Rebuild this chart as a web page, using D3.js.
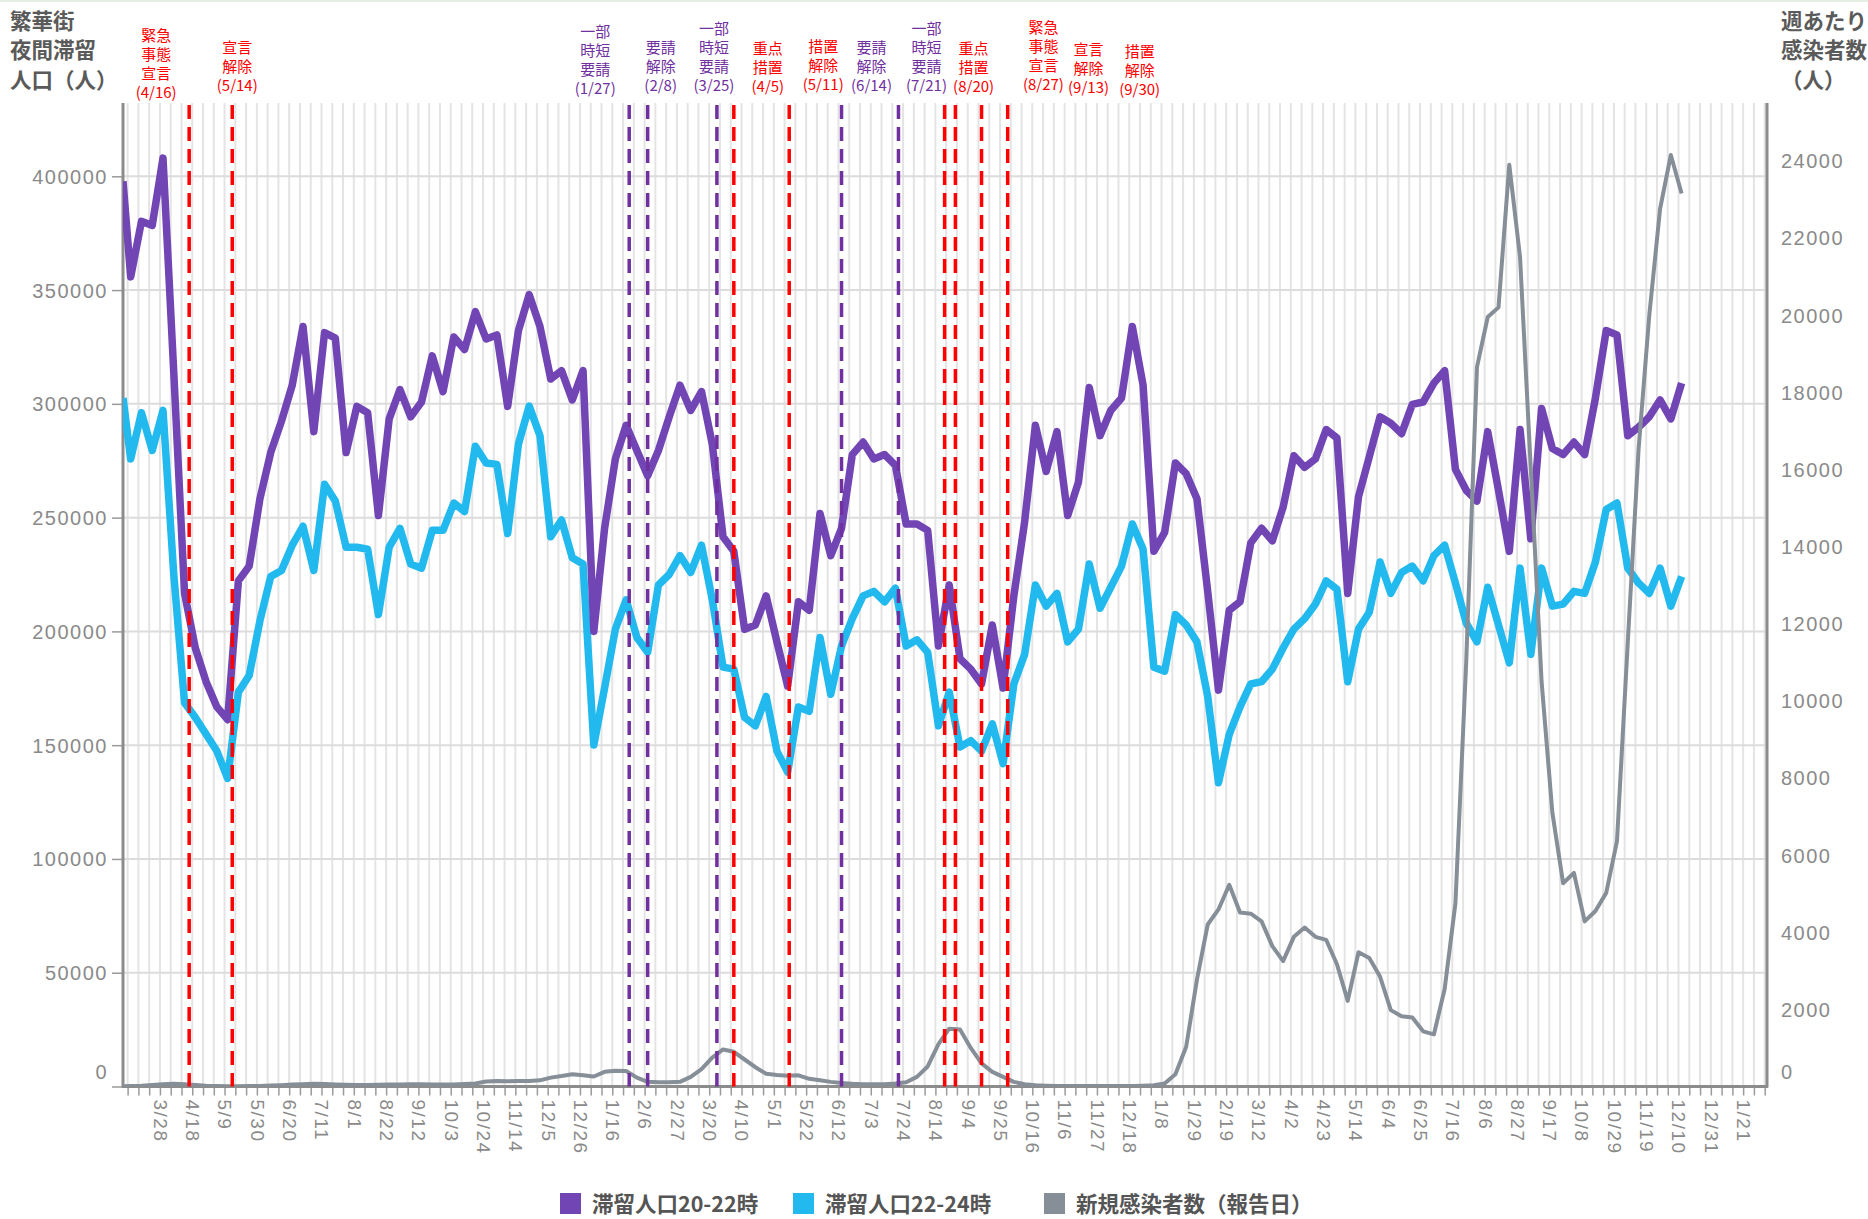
<!doctype html>
<html lang="ja">
<head>
<meta charset="utf-8">
<title>繁華街夜間滞留人口</title>
<script src="https://d3js.org/d3.v7.min.js"></script>
<style>
  body { margin: 0; background: #fff; }
  svg text { font-family: "Noto Sans CJK JP", "Noto Sans", sans-serif; }
  .num text { font-family: "Liberation Sans", Arial, sans-serif; fill: #8a8a8a; }
</style>
</head>
<body>
<svg id="chart" width="1868" height="1219"></svg>
<script>
// first point sits on the axis (3/4/2020), then weekly from 3/9/2020
var firstDay = new Date(2020, 2, 4);
var firstWeek = new Date(2020, 2, 9);

// 滞留人口20-22時
var stay2022 = [397800, 355800, 380200, 378400, 408000, 313700, 216700, 192700, 177900, 166800,
  161200, 222200, 228700, 258300, 278600, 292400, 308200, 334000, 287800, 331300,
  328900, 278600, 298900, 296100, 250900, 293400, 306300, 294300, 300800, 321100,
  305400, 329400, 323900, 340500, 328500, 330300, 298900, 332200, 348000, 334000,
  310900, 314600, 301700, 314600, 200000, 245300, 275800, 290600, 279500, 268400,
  279500, 294300, 308200, 297100, 305400, 282300, 241600, 235200, 200900, 202800,
  215600, 195400, 176000, 213000, 209300, 251800, 233300, 245300, 277700, 283200,
  275800, 277700, 273000, 247200, 247200, 244400, 193600, 220400, 188000, 183400,
  176900, 202800, 175100, 215600, 248100, 290600, 270300, 287800, 250900, 265600,
  307200, 286000, 297100, 302600, 334000, 308200, 235200, 243500, 274000, 269300,
  258300, 217600, 174200, 209300, 213000, 238900, 245300, 239800, 254600, 277200,
  272100, 275800, 288700, 285000, 216700, 259200, 276700, 294300, 291500, 286900,
  299800, 300800, 309100, 314600, 271200, 262000, 257300, 287800, 262000, 235200,
  288700, 240700, 298000, 280400, 277700, 283200, 277700, 302600, 332200, 330300,
  286000, 289700, 294300, 301700, 293400, 309100];

// 滞留人口22-24時
var stay2224 = [302600, 275800, 296100, 279500, 297100, 225000, 168600, 162200, 154800, 147400,
  135400, 173300, 180600, 204700, 224100, 226800, 237900, 246200, 226800, 264700,
  257300, 237000, 237000, 236100, 207400, 237000, 245300, 229600, 227800, 244400,
  244400, 256400, 252700, 281400, 274000, 273400, 243000, 282300, 299000, 286000,
  241600, 249000, 232400, 229600, 150100, 175100, 201000, 213900, 197300, 190800,
  220400, 225000, 233300, 225900, 237900, 213900, 184300, 183400, 162200, 158500,
  171400, 147400, 138200, 166800, 164900, 197300, 172400, 193600, 205600, 215600,
  217600, 213000, 219000, 193600, 196300, 190800, 158500, 173300, 149200, 152000,
  147400, 159400, 141900, 176900, 189900, 220400, 211100, 216700, 195400, 201000,
  229600, 210200, 219400, 228700, 247200, 236100, 184300, 182500, 207400, 202800,
  195400, 171400, 133500, 154800, 166800, 176900, 177900, 183400, 192700, 201000,
  205600, 212000, 222200, 218500, 177900, 201000, 208400, 230500, 216700, 225900,
  228700, 222200, 233300, 237900, 221300, 203700, 195400, 219400, 202800, 186200,
  227800, 189900, 227800, 211100, 212000, 217600, 216700, 230500, 253600, 256400,
  227800, 221300, 216700, 227800, 211100, 224100];

// 新規感染者数（報告日）, weekly total
var newCases = [5, 10, 20, 40, 60, 70, 60, 40, 20, 10,
  5, 5, 10, 15, 25, 35, 50, 60, 70, 65,
  55, 45, 40, 40, 45, 50, 55, 60, 60, 55,
  50, 55, 65, 80, 130, 140, 135, 140, 145, 160,
  230, 270, 320, 290, 260, 380, 410, 400, 230, 120,
  110, 110, 120, 250, 450, 750, 960, 900, 700, 500,
  330, 300, 280, 290, 200, 160, 120, 90, 70, 60,
  60, 60, 80, 110, 250, 520, 1100, 1500, 1480, 1000,
  600, 380, 250, 120, 60, 30, 20, 15, 15, 10,
  10, 10, 10, 15, 15, 20, 30, 80, 320, 1030,
  2770, 4200, 4590, 5230, 4510, 4480, 4280, 3640, 3250, 3880,
  4120, 3880, 3800, 3170, 2220, 3480, 3330, 2850, 1980, 1820,
  1790, 1430, 1350, 2530, 4750, 11000, 18650, 19950, 20200, 23900,
  21500, 16000, 10500, 7100, 5270, 5540, 4280, 4550, 5020, 6360,
  11500, 16500, 20000, 22750, 24150, 23150];

var weeks = stay2022.map(function(d, i) {
  return i === 0 ? firstDay : d3.timeDay.offset(firstWeek, 7 * (i - 1));
});

var leftTicks = [0, 50000, 100000, 150000, 200000, 250000, 300000, 350000, 400000];
var rightTicks = [0, 2000, 4000, 6000, 8000, 10000, 12000, 14000, 16000, 18000, 20000, 22000, 24000];
// x labels every 3 weeks from 3/28/2020 to 1/21/2023
var tickDates = d3.range(50).map(function(i) { return d3.timeDay.offset(new Date(2020, 2, 28), 21 * i); });

// measures
var eventDates = ["2020-04-16", "2020-05-14", "2021-01-27", "2021-02-08", "2021-03-25", "2021-04-05",
  "2021-05-11", "2021-06-14", "2021-07-21", "2021-08-20", "2021-08-27", "2021-09-13", "2021-09-30"];
var eventTexts = [
  ["緊急", "事態", "宣言", "(4/16)"],
  ["宣言", "解除", "(5/14)"],
  ["一部", "時短", "要請", "(1/27)"],
  ["要請", "解除", "(2/8)"],
  ["一部", "時短", "要請", "(3/25)"],
  ["重点", "措置", "(4/5)"],
  ["措置", "解除", "(5/11)"],
  ["要請", "解除", "(6/14)"],
  ["一部", "時短", "要請", "(7/21)"],
  ["重点", "措置", "(8/20)"],
  ["緊急", "事態", "宣言", "(8/27)"],
  ["宣言", "解除", "(9/13)"],
  ["措置", "解除", "(9/30)"]];
var eventTypes = ["red", "red", "purple", "purple", "purple", "red", "red", "purple", "purple", "red", "red", "red", "red"];
// where the label sits relative to its line
var eventLabelDx = [-33, 5, -34, 13, -3, 34, 34, 30, 28, 29, 88, 107, 132];
var eventLabelY = [93, 86, 89, 86, 86, 87, 85, 86, 86, 87, 85, 88, 90];

var seriesNames = ["滞留人口20-22時", "滞留人口22-24時", "新規感染者数（報告日）"];
var colors = ["#7245b4", "#22b9ee", "#868e97"];
var eventColor = {red: "#ff0000", purple: "#7030a0"};

var svg = d3.select("#chart");
var plot = {left: 123, right: 1767, top: 103, bottom: 1086.5};

var x = d3.scaleTime()
    .domain([new Date(2020, 2, 9), new Date(2022, 11, 12)])
    .range([130.7, 1681.6]);
var yL = d3.scaleLinear().domain([0, 400000]).range([plot.bottom, 176.3]);
var yR = d3.scaleLinear().domain([0, 24000]).range([plot.bottom, 160.8]);

svg.append("line").attr("x1", 0).attr("x2", 1868).attr("y1", 1).attr("y2", 1)
    .attr("stroke", "#e4eee4").attr("stroke-width", 2);

svg.append("clipPath").attr("id", "clip").append("rect")
    .attr("x", plot.left).attr("y", plot.top - 20)
    .attr("width", plot.right - plot.left).attr("height", plot.bottom - plot.top + 20);

// grid
var gridWeeks = d3.timeSaturday.range(new Date(2020, 2, 4), new Date(2023, 1, 6))
    .filter(function(d) { return x(d) > plot.left + 2 && x(d) < plot.right - 2; });

svg.append("g").selectAll("line").data(gridWeeks).enter().append("line")
    .attr("x1", function(d) { return x(d); }).attr("x2", function(d) { return x(d); })
    .attr("y1", plot.top).attr("y2", plot.bottom)
    .attr("stroke", "#e4e4e4").attr("stroke-width", 2);

svg.append("g").selectAll("line").data(leftTicks.slice(1)).enter().append("line")
    .attr("x1", plot.left).attr("x2", plot.right)
    .attr("y1", function(d) { return yL(d); }).attr("y2", function(d) { return yL(d); })
    .attr("stroke", "#dcdcdc").attr("stroke-width", 2);

// axes
var gx = svg.append("g").attr("transform", "translate(0," + plot.bottom + ")")
    .call(d3.axisBottom(x).tickValues(gridWeeks).tickSize(9).tickFormat(""));
gx.select(".domain").remove();
gx.selectAll("line").attr("stroke", "#9a9a9a").attr("stroke-width", 1.5);

var gxl = svg.append("g").attr("class", "num").attr("transform", "translate(0," + plot.bottom + ")")
    .call(d3.axisBottom(x).tickValues(tickDates).tickSize(0).tickFormat(d3.timeFormat("%-m/%-d")));
gxl.select(".domain").remove();
gxl.selectAll("text")
    .attr("x", 13).attr("y", 0).attr("dy", "0.35em")
    .attr("transform", "rotate(90)")
    .style("text-anchor", "start")
    .style("font-size", "19px")
    .style("letter-spacing", "1.5px");

var gl = svg.append("g").attr("class", "num").attr("transform", "translate(" + plot.left + ",0)")
    .call(d3.axisLeft(yL).tickValues(leftTicks).tickSize(11).tickPadding(4).tickFormat(d3.format("d")));
gl.select(".domain").remove();
gl.selectAll("line").attr("stroke", "#9a9a9a").attr("stroke-width", 1.5);
gl.selectAll("text").style("font-size", "20px").style("letter-spacing", "1.5px")
    .attr("dy", function(d) { return d === 0 ? "-0.4em" : "0.35em"; });

var gr = svg.append("g").attr("class", "num").attr("transform", "translate(" + plot.right + ",0)")
    .call(d3.axisRight(yR).tickValues(rightTicks).tickSize(0).tickPadding(14).tickFormat(d3.format("d")));
gr.select(".domain").remove();
gr.selectAll("text").style("font-size", "20px").style("letter-spacing", "1.5px")
    .attr("dy", function(d) { return d === 0 ? "-0.4em" : "0.35em"; });

svg.append("line").attr("x1", plot.left).attr("x2", plot.left)
    .attr("y1", plot.top).attr("y2", plot.bottom + 1)
    .attr("stroke", "#8c8c8c").attr("stroke-width", 3);
svg.append("line").attr("x1", plot.right).attr("x2", plot.right)
    .attr("y1", plot.top).attr("y2", plot.bottom + 1)
    .attr("stroke", "#8c8c8c").attr("stroke-width", 3);
svg.append("line").attr("x1", plot.left - 1).attr("x2", plot.right + 1)
    .attr("y1", plot.bottom).attr("y2", plot.bottom)
    .attr("stroke", "#8c8c8c").attr("stroke-width", 3);

// series
var lines = svg.append("g").attr("clip-path", "url(#clip)");

var lineL = d3.line()
    .x(function(d, i) { return x(weeks[i]); })
    .y(function(d) { return yL(d); });
var lineR = d3.line()
    .x(function(d, i) { return x(weeks[i]); })
    .y(function(d) { return yR(d); });

lines.append("path").datum(stay2224).attr("d", lineL)
    .attr("fill", "none").attr("stroke", colors[1]).attr("stroke-width", 7.5)
    .attr("stroke-linejoin", "round");
lines.append("path").datum(stay2022).attr("d", lineL)
    .attr("fill", "none").attr("stroke", colors[0]).attr("stroke-width", 7.5)
    .attr("stroke-linejoin", "round");
lines.append("path").datum(newCases).attr("d", lineR)
    .attr("fill", "none").attr("stroke", colors[2]).attr("stroke-width", 4)
    .attr("stroke-linejoin", "round");

// measure lines and labels
var parseDay = d3.timeParse("%Y-%m-%d");
var ev = svg.append("g").selectAll("g").data(eventDates).enter().append("g");

ev.append("line")
    .attr("x1", function(d) { return x(parseDay(d)); })
    .attr("x2", function(d) { return x(parseDay(d)); })
    .attr("y1", plot.top + 2).attr("y2", plot.bottom)
    .attr("stroke", function(d, i) { return eventColor[eventTypes[i]]; })
    .attr("stroke-width", 3.5)
    .attr("stroke-dasharray", "14,8");

ev.append("text")
    .attr("text-anchor", "middle")
    .attr("fill", function(d, i) { return eventColor[eventTypes[i]]; })
    .style("font-size", "15px")
    .each(function(d, i) {
      var t = d3.select(this);
      var n = eventTexts[i].length;
      var cx = x(parseDay(d)) + eventLabelDx[i];
      eventTexts[i].forEach(function(s, j) {
        t.append("tspan")
          .attr("x", cx)
          .attr("y", eventLabelY[i] - (n - 1 - j) * 19)
          .attr("dy", "0.35em")
          .text(s);
      });
    });

// axis titles
function titleBlock(rows, x0, anchor) {
  var t = svg.append("text")
      .attr("text-anchor", anchor)
      .attr("fill", "#5a5a5a")
      .style("font-size", "21.5px")
      .style("font-weight", "bold");
  rows.forEach(function(s, j) {
    t.append("tspan").attr("x", x0).attr("y", 21 + j * 29.5).attr("dy", "0.35em").text(s);
  });
}
titleBlock(["繁華街", "夜間滞留", "人口（人）"], 10, "start");
titleBlock(["週あたり", "感染者数", "（人）"], 1781, "start");

// legend
var legendX = [560, 793, 1044];
var lg = svg.append("g").selectAll("g").data(seriesNames).enter().append("g")
    .attr("transform", function(d, i) { return "translate(" + legendX[i] + ",1193)"; });
lg.append("rect").attr("width", 21).attr("height", 21)
    .attr("fill", function(d, i) { return colors[i]; });
lg.append("text").attr("x", 32).attr("y", 11).attr("dy", "0.35em")
    .attr("fill", "#555")
    .style("font-size", "21.5px").style("font-weight", "bold")
    .text(function(d) { return d; });
</script>
</body>
</html>
